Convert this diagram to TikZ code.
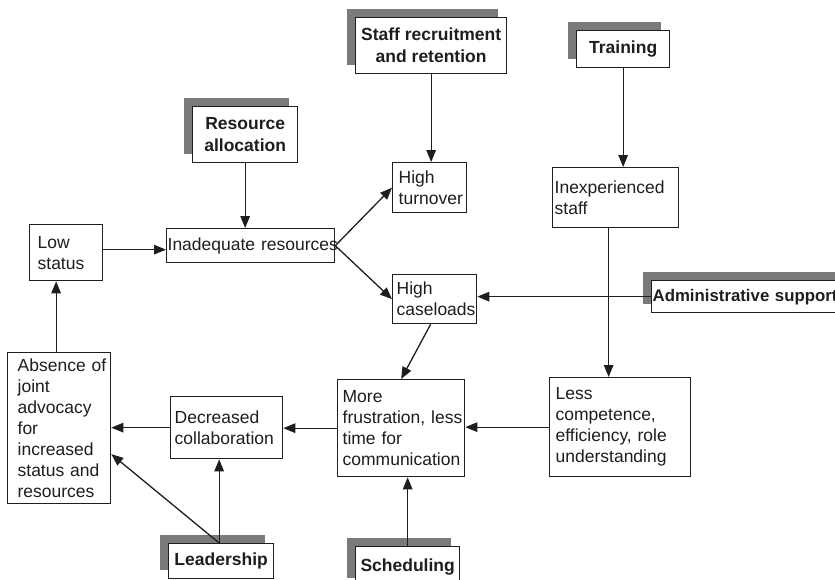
\documentclass[tikz,border=0pt]{standalone}
\usepackage{fontspec}
\setmainfont{Liberation Sans}
\usetikzlibrary{arrows.meta,shadows}
\definecolor{shadowgray}{RGB}{122,122,122}
\definecolor{ink}{RGB}{30,30,30}
\tikzset{
  box/.style={draw=ink, line width=1.3pt, fill=white, text=ink, anchor=north west,
    font=\fontsize{17.5}{21}\selectfont, inner ysep=0pt},
  lbox/.style 2 args={box, minimum width=#1, minimum height=#2, text width=#1,
    inner xsep=0pt, align=left},
  sbox/.style 2 args={box, minimum width=#1, minimum height=#2, inner xsep=0pt,
    align=center, font=\fontsize{17.5}{22}\selectfont\bfseries,
    drop shadow={shadow xshift=-9pt, shadow yshift=9pt, opacity=1, fill=shadowgray}},
  arr/.style={draw=ink, line width=1.3pt, -{Triangle[length=12pt,width=9.5pt]}}
}
\begin{document}
\begin{tikzpicture}[x=1pt,y=-1pt]
\clip (0,0) rectangle (835,579);
\fill[white] (0,0) rectangle (835,579);
% shadowed boxes
\node[sbox={151}{56}] (staff) at (355,17) {Staff recruitment\\and retention};
\node[sbox={93}{37}] (training) at (576,30) {Training};
\node[sbox={105}{56}] (resalloc) at (192,106) {Resource\\allocation};
\node[sbox={200}{32}, text width=200, align=left, font=\fontsize{16.8}{21}\selectfont\bfseries] (admin) at (651,280) {\leftskip=1pt Administrative support\par};
\node[sbox={105}{35}] (leadership) at (168,543) {Leadership};
\node[sbox={104}{40}] (scheduling) at (355,546) {Scheduling};
% plain boxes
\node[lbox={73}{56}] (lowstatus) at (29,224) {\leftskip=8pt Low\\status\par};
\node[lbox={168}{34}] (inadequate) at (166,228) {\leftskip=1pt \mbox{Inadequate resources}\par};
\node[lbox={74}{50}] (turnover) at (392,162) {\leftskip=6pt High\\turnover\par};
\node[lbox={84}{49}] (caseloads) at (392,274) {\leftskip=4pt High\\caseloads\par};
\node[lbox={126}{60}] (inexperienced) at (552,167) {\leftskip=2pt Inexperienced\\staff\par};
\node[lbox={141}{99}] (lesscomp) at (549,377) {\leftskip=6pt Less\\competence,\\efficiency, role\\understanding\par};
\node[lbox={127}{97}] (morefrus) at (337,379) {\leftskip=5pt More\\\mbox{frustration, less}\\time for\\communication\par};
\node[lbox={112}{62}] (decreased) at (170,396) {\leftskip=4pt Decreased\\collaboration\par};
\node[lbox={103}{151}] (absence) at (7,352) {\leftskip=10pt \mbox{Absence of}\\joint\\advocacy\\for\\increased\\status and\\resources\par};
% connectors
\draw[arr] (staff.south) -- (staff.south |- turnover.north);
\draw[arr] (training.south) -- (training.south |- inexperienced.north);
\draw[arr] (resalloc.south) -- (resalloc.south |- inadequate.north);
\draw[arr] ([yshift=-4pt]lowstatus.east |- inadequate.west) -- ([yshift=-4pt]inadequate.west);
\draw[arr] (inadequate.east) -- (turnover.west);
\draw[arr] (inadequate.east) -- (caseloads.west);
\draw[arr] (admin.west) -- (caseloads.east |- admin.west);
\draw[arr] ([xshift=-7pt]inexperienced.south) -- ([xshift=-7pt]inexperienced.south |- lesscomp.north);
\draw[arr] ([xshift=-4pt]caseloads.south) -- (morefrus.north);
\draw[arr] (lesscomp.west) -- (lesscomp.west -| morefrus.east);
\draw[arr] (scheduling.north) -- (scheduling.north |- morefrus.south);
\draw[arr] (morefrus.west) -- (morefrus.west -| decreased.east);
\draw[arr] (decreased.west) -- (decreased.west -| absence.east);
\draw[arr] ([xshift=-2pt]leadership.north) -- ([xshift=-2pt]leadership.north |- decreased.south);
\draw[arr] ([xshift=-2pt]leadership.north) -- ([yshift=-26pt]absence.east);
\draw[arr] ([xshift=-3pt]absence.north) -- ([xshift=-3pt]absence.north |- lowstatus.south);
\end{tikzpicture}
\end{document}
